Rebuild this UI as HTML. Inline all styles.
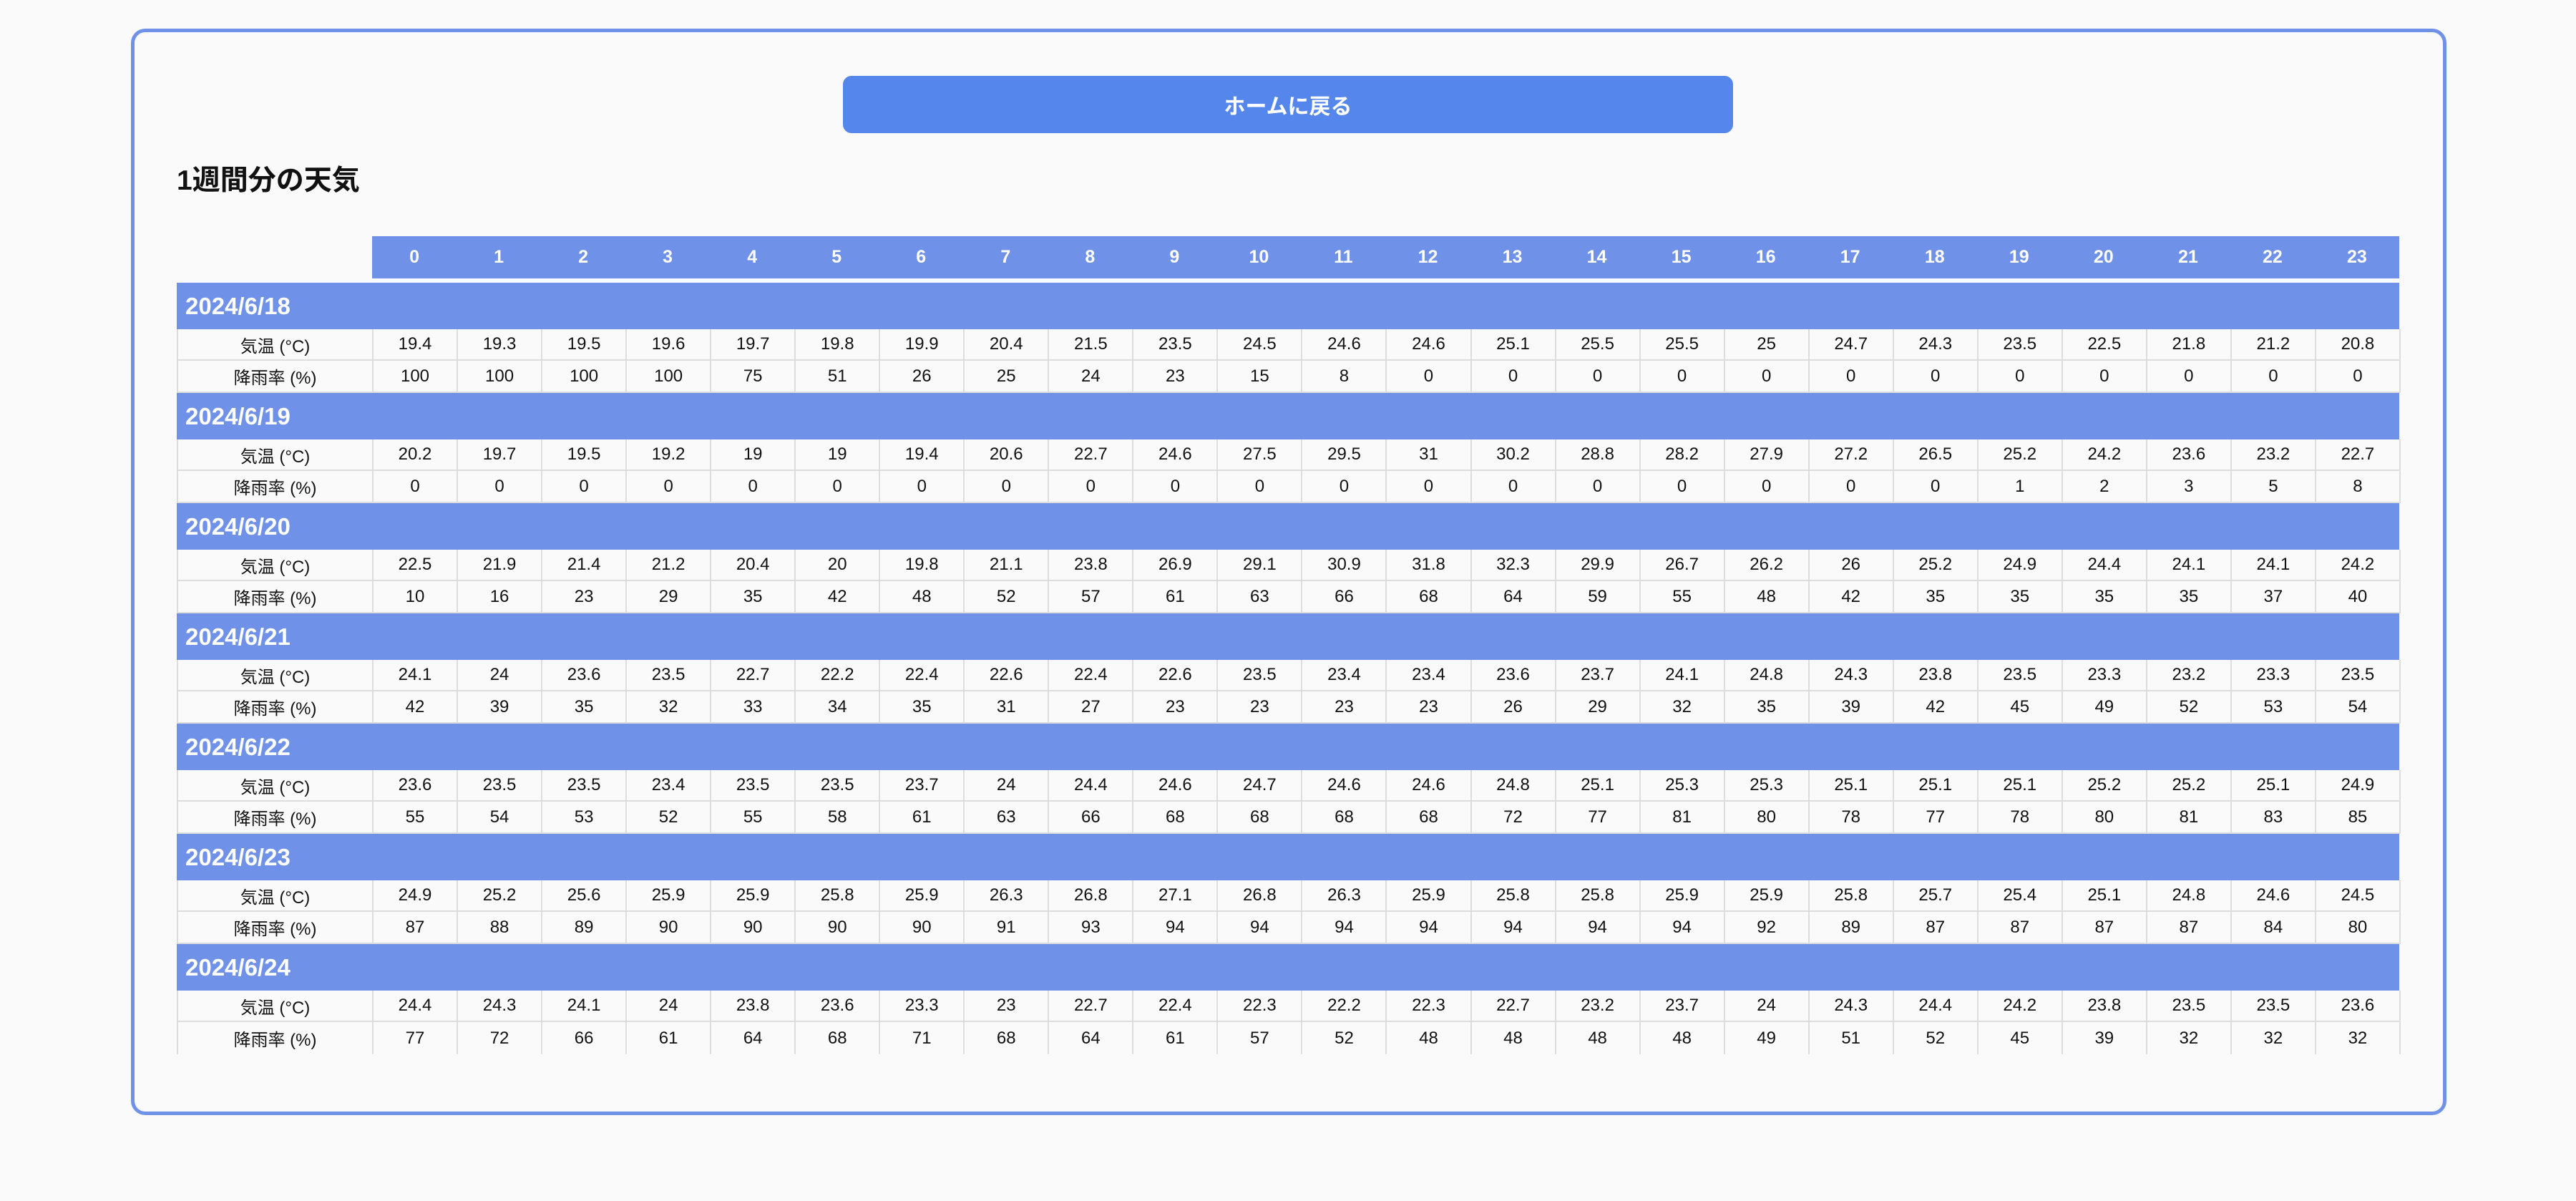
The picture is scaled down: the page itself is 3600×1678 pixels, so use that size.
<!DOCTYPE html>
<html lang="ja"><head><meta charset="utf-8"><style>
html,body{margin:0;padding:0;background:#fafafa;width:3600px;height:1678px;overflow:hidden;font-family:"Liberation Sans","Noto Sans CJK JP",sans-serif;}
#box{position:absolute;left:183px;top:40px;width:3226px;height:1508px;border:5px solid #6f91e8;border-radius:20px;}
#btn{position:absolute;left:1178px;top:106px;width:1244px;height:80px;background:#5586eb;border-radius:12px;color:#fff;font-weight:bold;font-size:30px;display:flex;align-items:center;justify-content:center;}
#title{position:absolute;left:247px;top:221px;font-size:39px;font-weight:bold;color:#111;}
.c{position:absolute;box-sizing:border-box;display:flex;align-items:center;justify-content:center;color:#111;font-size:24px;}
.h{background:#6f91e8;color:#fff;font-weight:bold;font-size:25px;}
.d{background:#6f91e8;color:#fff;font-weight:bold;font-size:33px;justify-content:flex-start;padding-left:12px;}
.v{border-left:2px solid #ddd;border-bottom:2px solid #ddd;}
</style></head><body>
<div id="box"></div>
<div id="btn">ホームに戻る</div>
<div id="title">1週間分の天気</div>
<div id="tbl"></div>
<script>
const hours=[0,1,2,3,4,5,6,7,8,9,10,11,12,13,14,15,16,17,18,19,20,21,22,23];
const dates=["2024/6/18","2024/6/19","2024/6/20","2024/6/21","2024/6/22","2024/6/23","2024/6/24"];
const temps=[
[19.4,19.3,19.5,19.6,19.7,19.8,19.9,20.4,21.5,23.5,24.5,24.6,24.6,25.1,25.5,25.5,25,24.7,24.3,23.5,22.5,21.8,21.2,20.8],
[20.2,19.7,19.5,19.2,19,19,19.4,20.6,22.7,24.6,27.5,29.5,31,30.2,28.8,28.2,27.9,27.2,26.5,25.2,24.2,23.6,23.2,22.7],
[22.5,21.9,21.4,21.2,20.4,20,19.8,21.1,23.8,26.9,29.1,30.9,31.8,32.3,29.9,26.7,26.2,26,25.2,24.9,24.4,24.1,24.1,24.2],
[24.1,24,23.6,23.5,22.7,22.2,22.4,22.6,22.4,22.6,23.5,23.4,23.4,23.6,23.7,24.1,24.8,24.3,23.8,23.5,23.3,23.2,23.3,23.5],
[23.6,23.5,23.5,23.4,23.5,23.5,23.7,24,24.4,24.6,24.7,24.6,24.6,24.8,25.1,25.3,25.3,25.1,25.1,25.1,25.2,25.2,25.1,24.9],
[24.9,25.2,25.6,25.9,25.9,25.8,25.9,26.3,26.8,27.1,26.8,26.3,25.9,25.8,25.8,25.9,25.9,25.8,25.7,25.4,25.1,24.8,24.6,24.5],
[24.4,24.3,24.1,24,23.8,23.6,23.3,23,22.7,22.4,22.3,22.2,22.3,22.7,23.2,23.7,24,24.3,24.4,24.2,23.8,23.5,23.5,23.6]];
const rains=[
[100,100,100,100,75,51,26,25,24,23,15,8,0,0,0,0,0,0,0,0,0,0,0,0],
[0,0,0,0,0,0,0,0,0,0,0,0,0,0,0,0,0,0,0,1,2,3,5,8],
[10,16,23,29,35,42,48,52,57,61,63,66,68,64,59,55,48,42,35,35,35,35,37,40],
[42,39,35,32,33,34,35,31,27,23,23,23,23,26,29,32,35,39,42,45,49,52,53,54],
[55,54,53,52,55,58,61,63,66,68,68,68,68,72,77,81,80,78,77,78,80,81,83,85],
[87,88,89,90,90,90,90,91,93,94,94,94,94,94,94,94,92,89,87,87,87,87,84,80],
[77,72,66,61,64,68,71,68,64,61,57,52,48,48,48,48,49,51,52,45,39,32,32,32]];
const tbl=document.getElementById('tbl');
const L=247,C0=520,CW=118.04,RIGHT=3353;
function cell(cls,x,y,w,h,txt){const e=document.createElement('div');e.className='c '+cls;e.style.left=x+'px';e.style.top=y+'px';e.style.width=w+'px';e.style.height=h+'px';e.textContent=txt;tbl.appendChild(e);return e;}
const hdr=cell('h',C0,330,RIGHT-C0,59,'');


hours.forEach((hv,i)=>{const e=cell('h',C0+i*CW,330,CW,59,String(hv));e.style.background='transparent';

});
dates.forEach((d,di)=>{
 const y=395+di*154;
 const last=di==dates.length-1;
 const dr=cell('d',L,y,RIGHT-L,65,d);
 
 
 const rows=[['気温 (°C)',temps[di],'temperature'],['降雨率 (%)',rains[di],'rain-chance']];
 rows.forEach((r,ri)=>{
  const ry=y+65+ri*44, rh=ri==0?44:45;
  const lb=cell('v',L,ry,C0-L,rh,r[0]);
  if(last&&ri==1)lb.style.borderBottom='none';
  
  
  r[1].forEach((v,i)=>{const e=cell('v',C0+i*CW,ry,CW+(i==23?2:0),rh,String(v));
   if(i==23)e.style.borderRight='2px solid #ddd';
   if(last&&ri==1)e.style.borderBottom='none';
   
   });
 });
});
</script>
</body></html>
